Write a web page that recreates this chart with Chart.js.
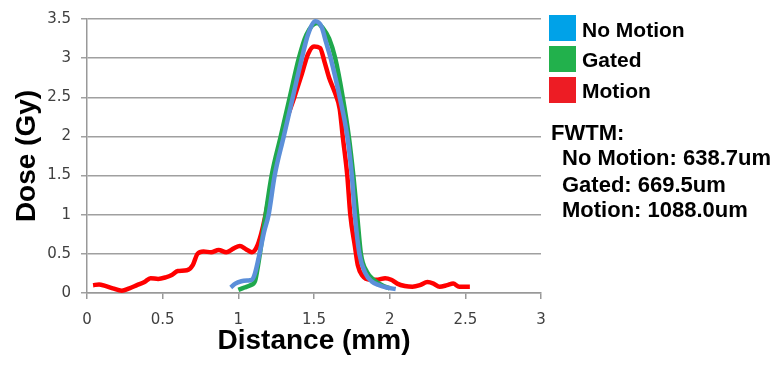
<!DOCTYPE html>
<html lang="en">
<head>
    <meta charset="UTF-8">
    <title>Dose Profile</title>
    <script src="https://cdn.jsdelivr.net/npm/chart.js"></script>
    <style>
        body { margin: 0; background: #fff; }
        #wrap { position: relative; width: 779px; height: 367px; }
        .key { position: absolute; left: 549px; width: 27px; height: 26px; }
        .txt { position: absolute; font-family: "Liberation Sans", Arial, sans-serif; font-weight: bold; color: #000; white-space: nowrap; line-height: 1; }
    </style>
</head>
<body>
<div id="wrap">
    <canvas id="doseChart" width="779" height="367"></canvas>
    <div class="key" style="top:15px;background:#00a2e8"></div>
    <div class="key" style="top:46px;background:#22b14c"></div>
    <div class="key" style="top:77px;background:#ed1c24"></div>
    <div class="txt" style="left:582px;top:19px;font-size:21px">No Motion</div>
    <div class="txt" style="left:582px;top:49px;font-size:21px">Gated</div>
    <div class="txt" style="left:582px;top:80px;font-size:21px">Motion</div>
    <div class="txt" style="left:551px;top:122px;font-size:22px">FWTM:</div>
    <div class="txt" style="left:562px;top:147px;font-size:22px">No Motion: 638.7um</div>
    <div class="txt" style="left:562px;top:174px;font-size:22px">Gated: 669.5um</div>
    <div class="txt" style="left:562px;top:199px;font-size:22px">Motion: 1088.0um</div>
</div>

<script>
    const xTicks = [0, 0.5, 1, 1.5, 2, 2.5, 3];
    const xTickLabels = ["0", "0.5", "1", "1.5", "2", "2.5", "3"];
    const yTicks = [0, 0.5, 1, 1.5, 2, 2.5, 3, 3.5];
    const yTickLabels = ["0", "0.5", "1", "1.5", "2", "2.5", "3", "3.5"];

    const noMotionX = [0.95, 0.98, 1.02, 1.06, 1.09, 1.11, 1.14, 1.17, 1.20, 1.24, 1.30, 1.36, 1.42, 1.46, 1.51, 1.55, 1.58, 1.61, 1.67, 1.72, 1.75, 1.77, 1.80, 1.84, 1.88, 1.93, 1.98, 2.04];
    const noMotionY = [0.07, 0.12, 0.15, 0.16, 0.17, 0.25, 0.50, 0.78, 1.00, 1.50, 2.00, 2.50, 3.00, 3.30, 3.47, 3.40, 3.20, 3.00, 2.50, 2.00, 1.50, 1.00, 0.50, 0.25, 0.15, 0.10, 0.07, 0.05];

    const gatedX = [1.00, 1.04, 1.08, 1.11, 1.13, 1.15, 1.18, 1.22, 1.28, 1.34, 1.40, 1.45, 1.52, 1.56, 1.60, 1.64, 1.69, 1.73, 1.76, 1.785, 1.81, 1.85, 1.90, 1.95, 2.00];
    const gatedY = [0.04, 0.07, 0.10, 0.15, 0.35, 0.60, 1.00, 1.50, 2.00, 2.50, 3.00, 3.30, 3.45, 3.38, 3.25, 3.00, 2.50, 2.00, 1.50, 1.00, 0.50, 0.27, 0.16, 0.10, 0.06];

    const motionX = [0.04, 0.08, 0.12, 0.17, 0.23, 0.28, 0.33, 0.38, 0.42, 0.47, 0.52, 0.56, 0.60, 0.66, 0.70, 0.73, 0.77, 0.82, 0.87, 0.92, 0.97, 1.01, 1.05, 1.09, 1.12, 1.15, 1.18, 1.23, 1.30, 1.37, 1.42, 1.46, 1.50, 1.54, 1.57, 1.60, 1.64, 1.67, 1.69, 1.72, 1.74, 1.77, 1.79, 1.82, 1.87, 1.92, 1.97, 2.01, 2.05, 2.10, 2.15, 2.20, 2.25, 2.29, 2.33, 2.38, 2.42, 2.46, 2.53];
    const motionY = [0.10, 0.11, 0.09, 0.06, 0.03, 0.06, 0.10, 0.14, 0.19, 0.18, 0.20, 0.23, 0.28, 0.29, 0.36, 0.50, 0.53, 0.52, 0.55, 0.52, 0.57, 0.60, 0.56, 0.52, 0.58, 0.75, 1.00, 1.50, 2.10, 2.50, 2.80, 3.05, 3.15, 3.13, 2.95, 2.75, 2.55, 2.35, 2.00, 1.50, 1.00, 0.60, 0.35, 0.22, 0.17, 0.17, 0.19, 0.17, 0.12, 0.09, 0.08, 0.10, 0.14, 0.12, 0.08, 0.10, 0.12, 0.08, 0.08];

    function pts(xs, ys) {
        return xs.map((x, i) => ({ x: x, y: ys[i] }));
    }

    const tickFont = { family: "DejaVu Sans", size: 15 };
    const titleFont = { family: "Liberation Sans", size: 28, weight: "bold" };

    new Chart(document.getElementById("doseChart"), {
        type: "line",
        data: {
            datasets: [
                { label: "No Motion", data: pts(noMotionX, noMotionY), borderColor: "#5b8fd9", order: 0 },
                { label: "Gated", data: pts(gatedX, gatedY), borderColor: "#1fa84c", order: 1 },
                { label: "Motion", data: pts(motionX, motionY), borderColor: "#ff0000", order: 2 }
            ]
        },
        options: {
            responsive: false,
            animation: false,
            layout: { padding: { top: 16, right: 238, left: 0, bottom: 0 } },
            elements: {
                line: { borderWidth: 4.5, cubicInterpolationMode: "monotone", fill: false },
                point: { radius: 0 }
            },
            plugins: { legend: { display: false }, tooltip: { enabled: false } },
            scales: {
                x: {
                    type: "linear",
                    min: 0, max: 3,
                    afterBuildTicks: s => { s.ticks = xTicks.map(v => ({ value: v })); },
                    afterFit: s => { s.height = 74; },
                    grid: { display: true, drawOnChartArea: false, color: "#999", lineWidth: 1.5, tickLength: 6 },
                    border: { color: "#999", width: 1.5 },
                    ticks: { font: tickFont, color: "#404040", padding: 12, maxRotation: 0,
                        callback: v => xTickLabels[xTicks.indexOf(v)] },
                    title: { display: true, text: "Distance (mm)", font: titleFont, color: "#000", padding: { top: 0, bottom: 9 } }
                },
                y: {
                    min: 0, max: 3.5,
                    afterBuildTicks: s => { s.ticks = yTicks.map(v => ({ value: v })); },
                    afterFit: s => { s.width = 87; },
                    grid: { color: "#a0a0a0", lineWidth: 1.5, tickLength: 6 },
                    border: { color: "#999", width: 1.5 },
                    ticks: { font: tickFont, color: "#404040", padding: 10,
                        callback: v => yTickLabels[yTicks.indexOf(v)] },
                    title: { display: true, text: "Dose (Gy)", font: titleFont, color: "#000", padding: { top: 10, bottom: 0 } }
                }
            }
        }
    });
</script>
</body>
</html>
